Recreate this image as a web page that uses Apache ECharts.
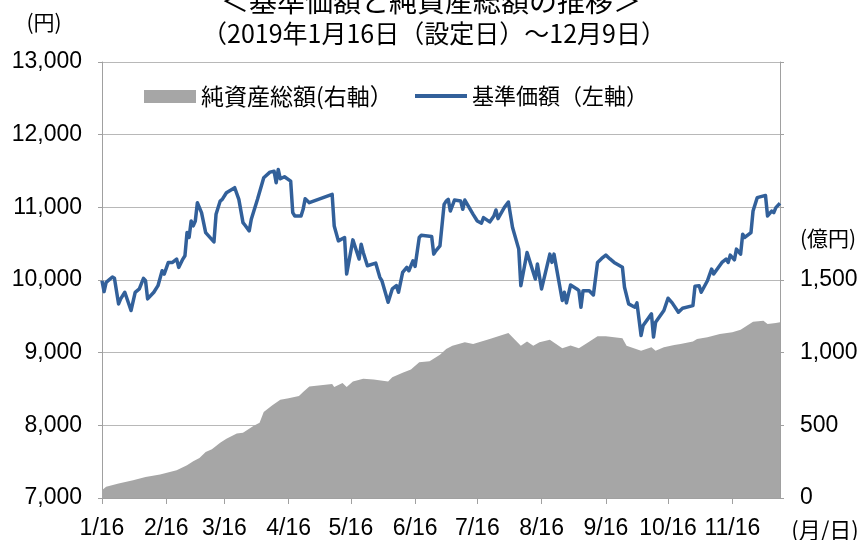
<!DOCTYPE html>
<html>
<head>
<meta charset="utf-8">
<script src="https://cdn.jsdelivr.net/npm/echarts@6/dist/echarts.min.js"></script>
<style>
html,body{margin:0;padding:0;background:#fff;}
#chart{width:862px;height:540px;}
</style>
</head>
<body>
<div id="chart"></div>
<script>
// ---- Data (2019) ----
const titleLine1 = '＜基準価額と純資産総額の推移＞';
const titleLine2 = '（2019年1月16日（設定日）〜12月9日）';
const navName = '基準価額（左軸）';
const assetName = '純資産総額(右軸）';

const navDates = ['01-16','01-17','01-18','01-21','01-22','01-24','01-25','01-27','01-30','02-01','02-03','02-05','02-06','02-07','02-10','02-12','02-14','02-15','02-17','02-19','02-21','02-22','02-24','02-25','02-26','02-27','02-28','03-01','03-02','03-03','03-05','03-07','03-11','03-12','03-14','03-15','03-17','03-21','03-23','03-25','03-26','03-28','03-29','04-01','04-04','04-07','04-09','04-10','04-11','04-12','04-14','04-17','04-18','04-19','04-22','04-23','04-24','04-26','05-07','05-08','05-10','05-13','05-14','05-17','05-20','05-21','05-22','05-24','05-28','05-30','05-31','06-03','06-05','06-07','06-08','06-10','06-12','06-13','06-15','06-16','06-18','06-19','06-24','06-25','06-26','06-28','06-30','07-01','07-02','07-03','07-05','07-08','07-09','07-10','07-14','07-16','07-18','07-19','07-22','07-24','07-25','07-26','07-29','07-31','08-02','08-05','08-06','08-09','08-13','08-14','08-16','08-20','08-21','08-22','08-26','08-27','08-28','08-30','09-02','09-03','09-04','09-05','09-08','09-10','09-12','09-14','09-16','09-18','09-20','09-24','09-25','09-27','09-30','10-01','10-03','10-04','10-08','10-09','10-10','10-14','10-16','10-18','10-21','10-23','10-28','10-29','10-31','11-01','11-04','11-06','11-07','11-11','11-13','11-14','11-15','11-17','11-18','11-20','11-21','11-22','11-25','11-26','11-28','12-02','12-03','12-05','12-06','12-07','12-09'];
const navValues = [9990,9840,9968,10041,10023,9671,9740,9831,9580,9831,9877,10023,9990,9740,9831,9922,10127,10082,10242,10242,10288,10174,10288,10333,10653,10585,10812,10744,10812,11064,10927,10653,10525,10904,11086,11110,11201,11270,11110,10790,10753,10675,10836,11110,11407,11484,11497,11338,11521,11393,11421,11360,10927,10881,10881,10973,11119,11064,11178,10744,10538,10585,10082,10552,10288,10493,10379,10196,10233,10037,9990,9694,9877,9922,9831,10105,10174,10127,10265,10187,10585,10617,10598,10356,10401,10470,11041,11086,11110,10949,11100,11086,10973,11100,10904,10812,10781,10859,10799,10881,10963,10845,10996,11073,10722,10425,9922,10379,10014,10219,9877,10356,10242,10356,9717,9831,9685,9931,9877,9853,9626,9853,9853,9794,10242,10297,10342,10290,10242,10174,9900,9671,9626,9685,9237,9374,9534,9215,9420,9580,9749,9685,9557,9612,9648,9914,9922,9831,9990,10151,10082,10242,10288,10242,10342,10278,10425,10356,10630,10585,10653,10949,11133,11164,10881,10949,10927,10996,11055];

const assetDates = ['01-16','01-18','01-24','01-31','02-06','02-13','02-21','02-26','03-01','03-04','03-07','03-10','03-14','03-17','03-22','03-25','03-30','04-02','04-04','04-08','04-12','04-16','04-21','04-23','04-26','05-07','05-08','05-12','05-14','05-17','05-22','05-27','06-03','06-05','06-10','06-14','06-18','06-23','06-28','07-01','07-04','07-10','07-14','07-22','07-31','08-06','08-09','08-12','08-15','08-20','08-26','08-30','09-03','09-07','09-12','09-16','09-24','09-26','10-03','10-08','10-10','10-14','10-19','10-22','10-28','10-30','11-04','11-10','11-16','11-20','11-26','12-01','12-03','12-07','12-09'];
const assetValues = [54,77,100,122,145,161,191,225,253,276,317,335,381,408,443,449,495,518,591,637,676,687,701,729,767,785,763,792,763,801,820,815,801,831,861,884,934,941,985,1026,1048,1071,1060,1094,1135,1048,1076,1048,1071,1089,1030,1050,1030,1067,1113,1113,1099,1048,1014,1037,1014,1037,1053,1060,1076,1094,1106,1128,1140,1158,1213,1220,1197,1204,1209];

const tickDates = ['01-16','02-16','03-16','04-16','05-16','06-16','07-16','08-16','09-16','10-16','11-16'];
const xStart = '01-16', xEnd = '12-09';

// ---- Build ----
function ts(md){ const p = md.split('-'); return new Date(2019, +p[0]-1, +p[1]).getTime(); }
const navData = navDates.map((d,i)=>[ts(d), navValues[i]]);
const assetData = assetDates.map((d,i)=>[ts(d), assetValues[i]]);
const tickTs = tickDates.map(ts);

const FONT = "'Liberation Sans', Arial, 'Noto Sans CJK JP', sans-serif";
const CJK = "'Noto Sans CJK JP', sans-serif";
const fmt = v => String(v).replace(/\B(?=(\d{3})+(?!\d))/g, ',');
const NAV_COLOR = '#32609a';
const AREA_COLOR = '#a6a6a6';

const chart = echarts.init(document.getElementById('chart'), null, {renderer:'canvas'});
chart.setOption({
  animation: false,
  backgroundColor: '#fff',
  grid: {left: 102, right: 82, top: 62, bottom: 41},
  legend: [{
    left: 139, top: 80, itemWidth: 52, itemHeight: 13,
    textStyle: {fontSize: 23, fontFamily: CJK, color: '#000'},
    data: [{name: assetName, icon: 'rect'}]
  },{
    left: 410, top: 80, itemWidth: 52, itemHeight: 4,
    textStyle: {fontSize: 22, fontFamily: CJK, color: '#000'},
    data: [{name: navName, icon: 'rect'}]
  }],
  xAxis: {
    type: 'value', min: ts(xStart), max: ts(xEnd), scale: true,
    axisLine: {show: true, lineStyle: {color: '#a0a0a0', width: 1}},
    axisTick: {show: true, length: 6, customValues: tickTs, lineStyle: {color: '#a0a0a0'}},
    axisLabel: {
      customValues: tickTs, margin: 19, fontSize: 23, fontFamily: FONT, color: '#000',
      formatter: v => { const d = new Date(v); return (d.getMonth()+1) + '/' + d.getDate(); }
    },
    splitLine: {show: false}
  },
  yAxis: [{
    type: 'value', min: 7000, max: 13000, interval: 1000,
    axisLine: {show: true, lineStyle: {color: '#a0a0a0'}},
    axisTick: {show: true, length: 4, lineStyle: {color: '#a0a0a0'}},
    axisLabel: {margin: 20, fontSize: 23, fontFamily: FONT, color: '#000', formatter: v => fmt(v)},
    splitLine: {show: true, lineStyle: {color: '#b8b8b8', width: 1}}
  },{
    type: 'value', min: 0, max: 3000, interval: 500, position: 'right',
    axisLine: {show: true, lineStyle: {color: '#a0a0a0'}},
    axisTick: {show: true, length: 4, lineStyle: {color: '#a0a0a0'}},
    axisLabel: {margin: 20, fontSize: 23, fontFamily: FONT, color: '#000', formatter: v => v <= 1500 ? fmt(v) : ''},
    splitLine: {show: false}
  }],
  series: [{
    name: assetName, type: 'line', yAxisIndex: 1, data: assetData,
    symbol: 'none', color: AREA_COLOR,
    lineStyle: {width: 0, color: AREA_COLOR},
    areaStyle: {color: AREA_COLOR, opacity: 1},
    z: 1
  },{
    name: navName, type: 'line', yAxisIndex: 0, data: navData,
    symbol: 'none', showSymbol: false, color: NAV_COLOR,
    lineStyle: {width: 3.5, color: NAV_COLOR, join: 'round'},
    z: 3
  }],
  graphic: [
    {type: 'text', x: 431, y: 1, style: {text: titleLine1, font: "28px 'Noto Sans CJK JP'", fill: '#000', textAlign: 'center', textVerticalAlign: 'middle'}},
    {type: 'text', x: 434, y: 33, style: {text: titleLine2, font: "25px 'Noto Sans CJK JP'", fill: '#000', textAlign: 'center', textVerticalAlign: 'middle'}},
    {type: 'text', x: 44, y: 22, style: {text: '(円)', font: "21px 'Noto Sans CJK JP'", fill: '#000', textAlign: 'center', textVerticalAlign: 'middle'}},
    {type: 'text', x: 828, y: 238, style: {text: '(億円)', font: "21px 'Noto Sans CJK JP'", fill: '#000', textAlign: 'center', textVerticalAlign: 'middle'}},
    {type: 'text', x: 825, y: 530, style: {text: '(月/日)', font: "22px 'Noto Sans CJK JP'", fill: '#000', textAlign: 'center', textVerticalAlign: 'middle'}}
  ]
});
</script>
</body>
</html>
